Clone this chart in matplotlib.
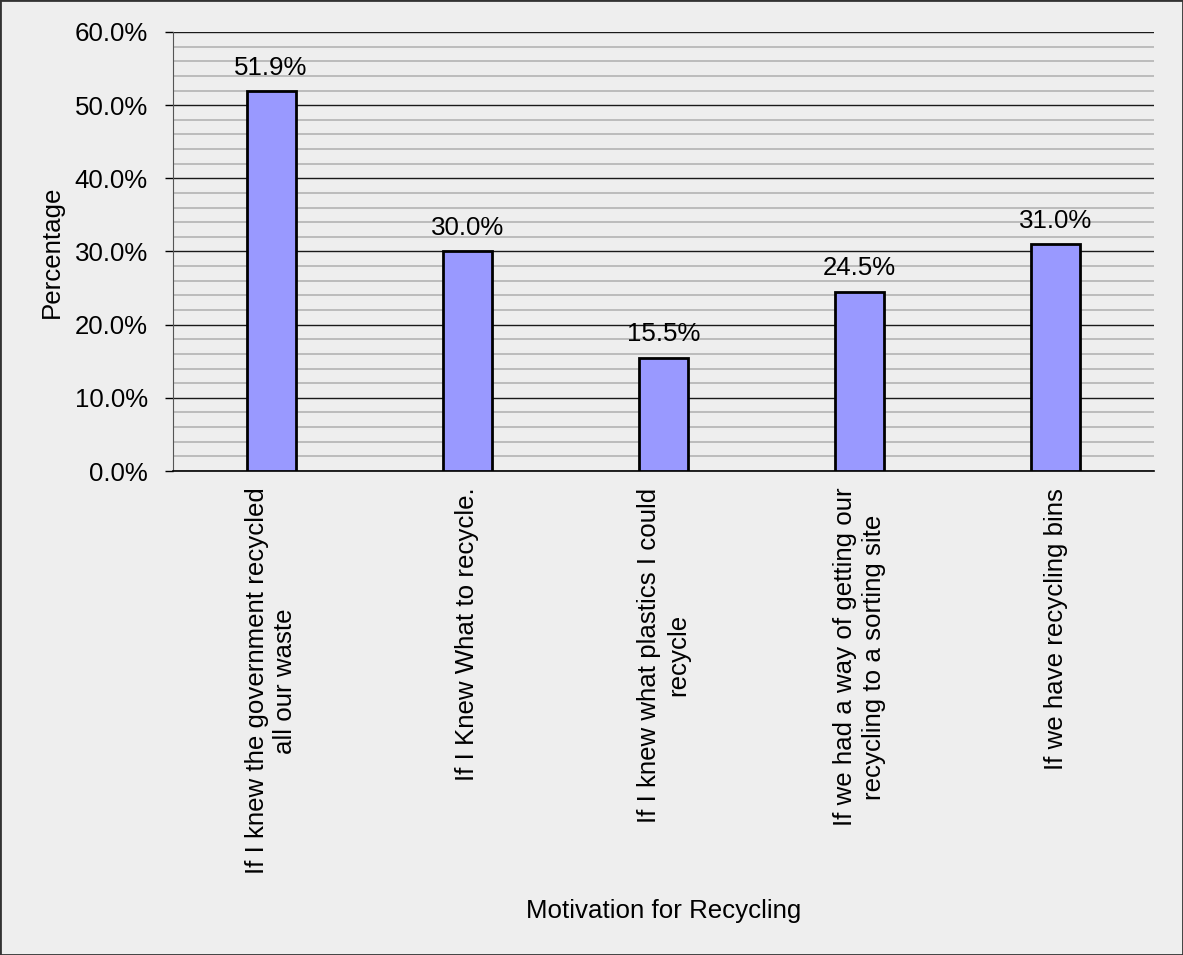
import matplotlib.pyplot as plt
from matplotlib.ticker import MultipleLocator, FuncFormatter
from matplotlib.patches import Rectangle

plt.rcParams['font.family'] = ['Liberation Sans', 'DejaVu Sans']

# 数据
categories = [
    "If I knew the government recycled\nall our waste",
    "If I Knew What to recycle.",
    "If I knew what plastics I could\nrecycle",
    "If we had a way of getting our\nrecycling to a sorting site",
    "If we have recycling bins",
]
values = [51.9, 30.0, 15.5, 24.5, 31.0]

fs = 18.6
bg = '#eeeeee'
fig = plt.figure(figsize=(11.83, 9.55), dpi=100, facecolor=bg)
ax = fig.add_axes([0.1462, 0.5068, 0.8293, 0.4597], facecolor=bg)

x = range(len(values))
ax.bar(x, values, width=0.25, color='#9999ff', edgecolor='black', linewidth=2, zorder=3)

# 柱顶数值
for xi, v in zip(x, values):
    ax.annotate(f"{v:.1f}%", (xi, v), xytext=(0, 12), textcoords='offset points',
                ha='center', va='baseline', fontsize=fs, zorder=4)

ax.set_xlim(-0.5, len(values) - 0.5)
ax.set_ylim(0, 60)
ax.yaxis.set_major_locator(MultipleLocator(10))
ax.yaxis.set_minor_locator(MultipleLocator(2))
ax.yaxis.set_major_formatter(FuncFormatter(lambda v, p: f"{v:.1f}%"))
ax.grid(axis='y', which='major', color='#1a1a1a', linewidth=1.0, zorder=1)
ax.grid(axis='y', which='minor', color='#b4b4b4', linewidth=1.2, zorder=1)
ax.tick_params(axis='y', which='major', length=6, width=1, labelsize=fs, pad=12)
ax.tick_params(axis='y', which='minor', length=0)

ax.set_xticks(list(x))
ax.set_xticklabels(categories, rotation=90, ha='center', va='top',
                   multialignment='center', fontsize=fs, linespacing=1.25)
ax.tick_params(axis='x', length=0, pad=12)

for s in ['top', 'right']:
    ax.spines[s].set_visible(False)
ax.spines['left'].set_color('#555555')
ax.spines['bottom'].set_color('black')
ax.spines['bottom'].set_linewidth(1.2)

ax.set_ylabel("Percentage", fontsize=fs, labelpad=8)
ax.set_xlabel("Motivation for Recycling", fontsize=fs, labelpad=18)

fig.patches.append(Rectangle((0, 0), 1, 1, transform=fig.transFigure,
                             fill=False, edgecolor='#333333', linewidth=2))

plt.savefig('out.png', dpi=100, facecolor=bg)
